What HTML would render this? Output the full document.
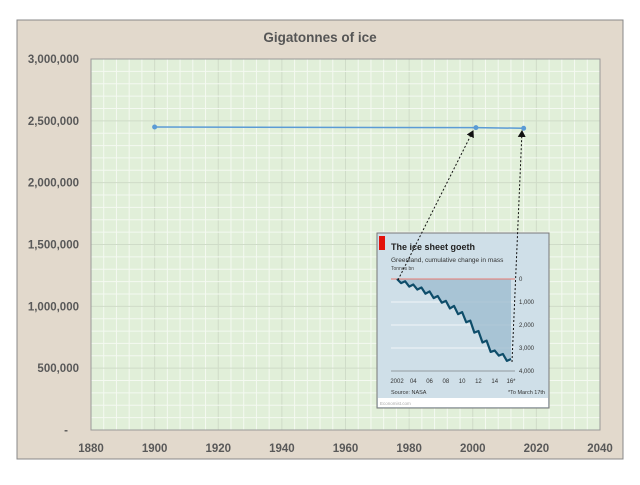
<!DOCTYPE html>
<html><head><meta charset="utf-8"><style>
body{margin:0;width:640px;height:480px;background:#fff;overflow:hidden;font-family:"Liberation Sans",sans-serif}
</style></head><body>
<svg width="640" height="480" id="svg">
<defs>
<marker id="ah" markerWidth="8" markerHeight="8" refX="6" refY="4" orient="auto"><path d="M0,0 L7,4 L0,8 z" fill="#111"/></marker>
</defs>
<rect x="17" y="20" width="606" height="439" fill="#e2d9cc" stroke="#888"/>
<text x="320" y="42" text-anchor="middle" font-size="13.5" font-weight="bold" fill="#555">Gigatonnes of ice</text>
<rect x="91" y="59" width="509" height="371" fill="#e1efd9"/>
<g id="grid"></g><g id="axes"></g><g id="series"></g>
<g id="inset">
<rect x="377" y="233" width="172" height="175" fill="#cfdfe8" stroke="#777"/>
<rect x="378" y="398" width="170" height="9" fill="#fff"/>
<rect x="379" y="236" width="6" height="14" fill="#e3120b"/>
<text x="391" y="250" font-size="9" font-weight="bold" fill="#222">The ice sheet goeth</text>
<text x="391" y="262" font-size="6.5" fill="#333">Greenland, cumulative change in mass</text>
<text x="391" y="270" font-size="5" fill="#444">Tonnes bn</text>
<g id="insetplot"></g>
<text x="391" y="394" font-size="5.5" fill="#333">Source: NASA</text>
<text x="545" y="394" font-size="5.5" fill="#333" text-anchor="end">*To March 17th</text>
<text x="380" y="405" font-size="4.5" fill="#aaa">Economist.com</text>
</g>
<line x1="398" y1="280" x2="473" y2="131" stroke="#111" stroke-dasharray="2,2" marker-end="url(#ah)"/>
<line x1="512" y1="362" x2="522" y2="131" stroke="#111" stroke-dasharray="2,2" marker-end="url(#ah)"/>
</svg>
<script>
const years=[1900,2001,2016];
const values=[2450000,2445000,2440000];
const xTicks=[1880,1900,1920,1940,1960,1980,2000,2020,2040];
const yTicks=[0,500000,1000000,1500000,2000000,2500000,3000000];
const yTickLabels=["-","500,000","1,000,000","1,500,000","2,000,000","2,500,000","3,000,000"];
const insetYears=[2002,2002.5,2003,2003.5,2004,2004.5,2005,2005.5,2006,2006.5,2007,2007.5,2008,2008.5,2009,2009.5,2010,2010.5,2011,2011.5,2012,2012.5,2013,2013.5,2014,2014.5,2015,2015.5,2016];
const insetValues=[0,180,100,330,240,460,370,640,540,830,740,1030,950,1280,1170,1530,1440,1880,1810,2330,2260,2760,2680,3170,3110,3330,3260,3560,3480];
const insetTickLabels=["2002","04","06","08","10","12","14","16*"];
const NS="http://www.w3.org/2000/svg";
const X=v=>91+(v-1880)*509/160, Y=v=>430-v*371/3000000;
function mk(t,a,p){const e=document.createElementNS(NS,t);for(const k in a)e.setAttribute(k,a[k]);p.appendChild(e);return e;}
const grid=document.getElementById('grid'),axes=document.getElementById('axes'),ser=document.getElementById('series');
for(let i=0;i<=40;i++){const x=91+i*509/40;const major=i%5==0;const l=mk('line',{x1:x,x2:x,y1:59,y2:430,stroke:major?'#cfdcc8':'#f4f9f1','stroke-width':1},grid);
}
for(let i=0;i<=30;i++){const y=59+i*371/30;const major=i%5==0;const l=mk('line',{x1:91,x2:600,y1:y,y2:y,stroke:major?'#cfdcc8':'#f4f9f1','stroke-width':1},grid);
}
mk('rect',{x:91,y:59,width:509,height:371,fill:'none',stroke:'#999'},grid);
xTicks.forEach(t=>{const e=mk('text',{x:X(t),y:452,'text-anchor':'middle','font-size':11.5,'font-weight':'bold',fill:'#595959'},axes);e.textContent=t;
});
yTicks.forEach((t,i)=>{const e=mk('text',{x:t==0?68:79,y:Y(t)+4,'text-anchor':'end','font-size':11.5,'font-weight':'bold',fill:'#595959'},axes);e.textContent=yTickLabels[i];
});
const pl=mk('polyline',{points:years.map((y,i)=>X(y)+','+Y(values[i])).join(' '),fill:'none',stroke:'#5b9bd5','stroke-width':1.5},ser);

years.forEach((y,i)=>{const c=mk('circle',{cx:X(y),cy:Y(values[i]),r:2.5,fill:'#5b9bd5'},ser);
});
const ip=document.getElementById('insetplot');
const IX=v=>397+(v-2002)*114/14, IY=v=>279+v*0.023;
[1000,2000,3000].forEach(v=>mk('line',{x1:391,x2:515,y1:IY(v),y2:IY(v),stroke:'#f2f6f8','stroke-width':1},ip));
const pts=insetYears.map((y,i)=>IX(y)+','+IY(insetValues[i]));
mk('polygon',{points:IX(insetYears[0])+','+IY(0)+' '+pts.join(' ')+' '+IX(insetYears[insetYears.length-1])+','+IY(0),fill:'#9dbdcf',opacity:0.8},ip);
mk('line',{x1:391,x2:515,y1:IY(0),y2:IY(0),stroke:'#e87a70','stroke-width':1},ip);
const il=mk('polyline',{points:pts.join(' '),fill:'none',stroke:'#0e4d6a','stroke-width':2.2,'stroke-linejoin':'round'},ip);

[0,1000,2000,3000,4000].forEach(v=>{const e=mk('text',{x:519,y:IY(v)+2,'font-size':6,fill:'#333'},ip);e.textContent=v==0?'0':v.toLocaleString('en-US');});
mk('line',{x1:391,x2:515,y1:IY(4000),y2:IY(4000),stroke:'#555','stroke-width':0.6},ip);
insetTickLabels.forEach((t,i)=>{const e=mk('text',{x:IX(2002+i*2),y:383,'font-size':6,fill:'#333','text-anchor':'middle'},ip);e.textContent=t;});
</script>
</body></html>
